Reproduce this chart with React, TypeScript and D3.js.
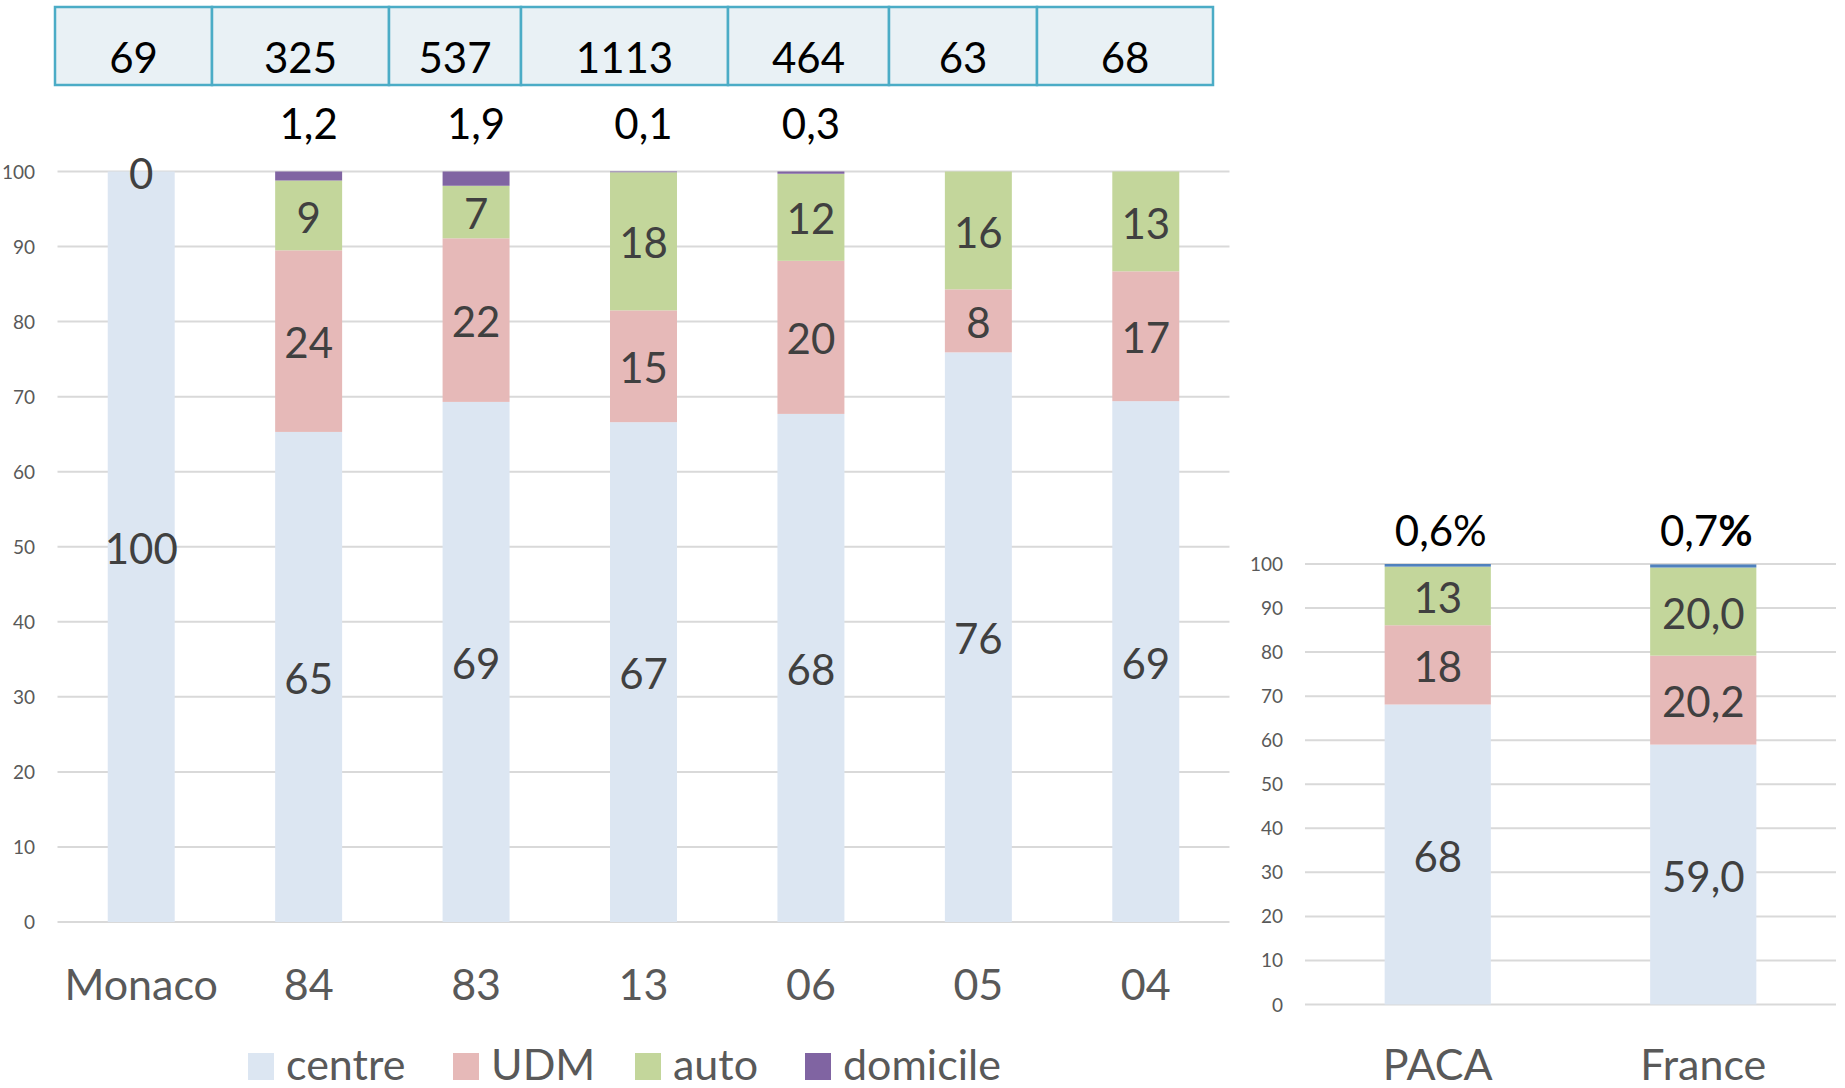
import React from "react";
import * as d3 from "d3";

const width = 1845;
const height = 1088;
const font = "Lato, 'Open Sans', sans-serif";

// departements (left chart)
const departements = ["Monaco", "84", "83", "13", "06", "05", "04"];
const centre = [100, 65.3, 69.3, 66.6, 67.7, 75.9, 69.4];
const udm = [0, 24.2, 21.8, 14.9, 20.4, 8.4, 17.3];
const auto = [0, 9.3, 7.0, 18.4, 11.6, 15.7, 13.3];
const domicile = [0, 1.2, 1.9, 0.1, 0.3, 0, 0];
const effectifs = [69, 325, 537, 1113, 464, 63, 68];
const domicileLabels = ["", "1,2", "1,9", "0,1", "0,3", "", ""];

// regions (right chart)
const regions = ["PACA", "France"];
const centreReg = [68.1, 59.0];
const udmReg = [18.0, 20.2];
const autoReg = [13.3, 20.0];
const domicileReg = [0.6, 0.7];
const regDecimals = [0, 1];
const domicileRegLabels = ["0,6", "0,7"];

const yTicks = d3.range(0, 101, 10);
const keys = ["centre", "udm", "auto", "domicile"];
const legendLabels = ["centre", "UDM", "auto", "domicile"];

const colors = { centre: "#DCE6F2", udm: "#E6B9B8", auto: "#C3D69B", domicile: "#8064A2" };
const colorsReg = { ...colors, domicile: "#4F81BD" };

// table column edges (layout of the pasted table above the chart)
const tableEdges = [55, 212, 389, 521, 728, 889, 1037, 1213];
const legendX = [248, 453, 635, 805];

const fmt = (v, dec) => v.toFixed(dec).replace(".", ",");

const labelFs = 42;

function StackedBars({ names, series, x, y, palette, decimals, tickX, xLabelY }) {
  const rows = names.map((n, i) => ({
    name: n,
    centre: series[0][i],
    udm: series[1][i],
    auto: series[2][i],
    domicile: series[3][i],
  }));
  const stacked = d3.stack().keys(keys)(rows);
  const [x0, x1] = x.range();
  const bw = x.bandwidth();

  return (
    <g>
      {yTicks.map((t) => (
        <g key={t}>
          <line x1={x0} x2={x1} y1={y(t)} y2={y(t)} stroke="#D9D9D9" strokeWidth={2} />
          <text x={tickX} y={y(t) + 7} textAnchor="end" fontSize={19} fill="#595959" fontFamily={font}>
            {t}
          </text>
        </g>
      ))}
      {stacked.map((layer) => (
        <g key={layer.key} fill={palette[layer.key]}>
          {layer.map((d, i) => (
            <rect
              key={i}
              x={x(names[i])}
              width={bw}
              y={y(d[1])}
              height={Math.max(0, y(d[0]) - y(d[1]))}
            />
          ))}
        </g>
      ))}
      {names.map((n, i) => {
        let zeroShown = false;
        return stacked.slice(0, 3).map((layer) => {
          const d = layer[i];
          const v = d[1] - d[0];
          if (v <= 0) {
            if (zeroShown) return null;
            zeroShown = true;
          }
          const mid = (y(d[0]) + y(d[1])) / 2;
          return (
            <text
              key={n + layer.key}
              x={x(n) + bw / 2}
              y={mid + labelFs * 0.36 + 2}
              textAnchor="middle"
              fontSize={labelFs}
              fill="#404040"
              fontFamily={font}
            >
              {fmt(v, decimals[i])}
            </text>
          );
        });
      })}
      {names.map((n) => (
        <text
          key={n}
          x={x(n) + bw / 2}
          y={xLabelY}
          textAnchor="middle"
          fontSize={43}
          fill="#595959"
          fontFamily={font}
        >
          {n}
        </text>
      ))}
    </g>
  );
}

export default function App() {
  const x = d3.scaleBand().domain(departements).range([57.5, 1229.5]).paddingInner(0.6).paddingOuter(0.3);
  const y = d3.scaleLinear().domain([0, 100]).range([922, 171.5]);

  const xr = d3.scaleBand().domain(regions).range([1305, 1836]).paddingInner(0.6).paddingOuter(0.3);
  const yr = d3.scaleLinear().domain([0, 100]).range([1004.5, 564]);

  return (
    <svg
      width={width}
      height={height}
      style={{ position: "absolute", left: 0, top: 0, display: "block", background: "#fff" }}
    >
      {/* table of effectifs */}
      {effectifs.map((n, i) => (
        <g key={i}>
          <rect
            x={tableEdges[i]}
            y={7}
            width={tableEdges[i + 1] - tableEdges[i]}
            height={78}
            fill="#E9F1F5"
            stroke="#4BACC6"
            strokeWidth={2.5}
          />
          <text
            x={(tableEdges[i] + tableEdges[i + 1]) / 2}
            y={73}
            textAnchor="middle"
            fontSize={42}
            fill="#000"
            fontFamily={font}
          >
            {n}
          </text>
        </g>
      ))}

      {/* domicile shares above bars */}
      {departements.map((d, i) =>
        domicileLabels[i] ? (
          <text
            key={d}
            x={x(d) + x.bandwidth() / 2}
            y={139}
            textAnchor="middle"
            fontSize={42}
            fill="#000"
            fontFamily={font}
          >
            {domicileLabels[i]}
          </text>
        ) : null
      )}

      <StackedBars
        names={departements}
        series={[centre, udm, auto, domicile]}
        x={x}
        y={y}
        palette={colors}
        decimals={departements.map(() => 0)}
        tickX={35}
        xLabelY={1000}
      />

      {regions.map((r, i) => (
        <text
          key={r}
          x={xr(r) + xr.bandwidth() / 2 + 3}
          y={546}
          textAnchor="middle"
          fontSize={42}
          fill="#000"
          fontFamily={font}
        >
          {domicileRegLabels[i]}
          <tspan fontWeight={i === 1 ? 700 : 400}>%</tspan>
        </text>
      ))}

      <StackedBars
        names={regions}
        series={[centreReg, udmReg, autoReg, domicileReg]}
        x={xr}
        y={yr}
        palette={colorsReg}
        decimals={regDecimals}
        tickX={1283}
        xLabelY={1080}
      />

      {/* legend */}
      {keys.map((k, i) => (
        <g key={k}>
          <rect x={legendX[i]} y={1053} width={26} height={27} fill={colors[k]} />
          <text x={legendX[i] + 38} y={1080} fontSize={43} fill="#595959" fontFamily={font}>
            {legendLabels[i]}
          </text>
        </g>
      ))}
    </svg>
  );
}
